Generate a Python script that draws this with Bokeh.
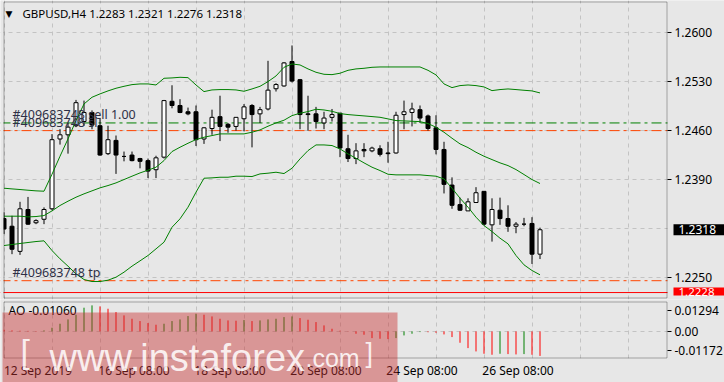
from bokeh.plotting import figure
from bokeh.models import (Range1d, FixedTicker, Span, Label, BoxAnnotation, LinearAxis,
                          ColumnDataSource, NumeralTickFormatter)
from bokeh.layouts import column
from bokeh.embed import file_html
from bokeh.resources import INLINE

# ---------------- data ----------------
symbol = "GBPUSD,H4"
opens = [1.2334, 1.2323, 1.2287, 1.2347, 1.2328, 1.2333, 1.2348, 1.2448, 1.2454, 1.2467,
         1.2473, 1.2486, 1.2467, 1.2427, 1.2446, 1.2423, 1.2425, 1.2420, 1.2417, 1.2404,
         1.2422, 1.2502, 1.2496, 1.2487, 1.2487, 1.2448, 1.2463, 1.2480, 1.2469, 1.2466,
         1.2477, 1.2496, 1.2484, 1.2491, 1.2520, 1.2524, 1.2559, 1.2533, 1.2484, 1.2484,
         1.2471, 1.2479, 1.2485, 1.2434, 1.2420, 1.2433, 1.2431, 1.2434, 1.2428, 1.2428,
         1.2483, 1.2486, 1.2490, 1.2481, 1.2464, 1.2433, 1.2382, 1.2354, 1.2345, 1.2357,
         1.2373, 1.2325, 1.2346, 1.2334, 1.2323, 1.2326, 1.2327, 1.2283]
highs = [1.2343, 1.2338, 1.2358, 1.2365, 1.2333, 1.2350, 1.2455, 1.2462, 1.2471, 1.2504,
         1.2503, 1.2489, 1.2478, 1.2467, 1.2453, 1.2430, 1.2430, 1.2421, 1.2420, 1.2424,
         1.2504, 1.2525, 1.2505, 1.2493, 1.2496, 1.2465, 1.2490, 1.2510, 1.2471, 1.2479,
         1.2498, 1.2498, 1.2494, 1.2560, 1.2528, 1.2558, 1.2582, 1.2534, 1.2510, 1.2494,
         1.2487, 1.2491, 1.2485, 1.2454, 1.2442, 1.2442, 1.2437, 1.2439, 1.2444, 1.2487,
         1.2503, 1.2500, 1.2496, 1.2483, 1.2482, 1.2444, 1.2393, 1.2364, 1.2363, 1.2379,
         1.2373, 1.2363, 1.2364, 1.2353, 1.2329, 1.2335, 1.2336, 1.2321]
lows = [1.2312, 1.2283, 1.2282, 1.2325, 1.2326, 1.2326, 1.2346, 1.2440, 1.2427, 1.2465,
        1.2467, 1.2462, 1.2424, 1.2425, 1.2398, 1.2416, 1.2416, 1.2406, 1.2392, 1.2392,
        1.2420, 1.2492, 1.2485, 1.2482, 1.2438, 1.2441, 1.2454, 1.2445, 1.2457, 1.2460,
        1.2459, 1.2436, 1.2471, 1.2489, 1.2516, 1.2523, 1.2529, 1.2462, 1.2460, 1.2463,
        1.2462, 1.2473, 1.2422, 1.2415, 1.2412, 1.2422, 1.2429, 1.2423, 1.2414, 1.2427,
        1.2462, 1.2466, 1.2471, 1.2460, 1.2426, 1.2370, 1.2348, 1.2345, 1.2345, 1.2357,
        1.2324, 1.2301, 1.2325, 1.2315, 1.2313, 1.2323, 1.2269, 1.2276]
closes = [1.2319, 1.2290, 1.2348, 1.2326, 1.2331, 1.2347, 1.2447, 1.2454, 1.2465, 1.2500,
          1.2486, 1.2468, 1.2425, 1.2447, 1.2425, 1.2423, 1.2417, 1.2416, 1.2402, 1.2421,
          1.2503, 1.2496, 1.2486, 1.2484, 1.2447, 1.2464, 1.2479, 1.2466, 1.2465, 1.2479,
          1.2494, 1.2483, 1.2490, 1.2518, 1.2526, 1.2557, 1.2531, 1.2483, 1.2483, 1.2473,
          1.2478, 1.2483, 1.2435, 1.2420, 1.2431, 1.2431, 1.2435, 1.2426, 1.2427, 1.2482,
          1.2487, 1.2491, 1.2478, 1.2463, 1.2433, 1.2383, 1.2353, 1.2346, 1.2358, 1.2371,
          1.2326, 1.2347, 1.2334, 1.2323, 1.2326, 1.2326, 1.2283, 1.2318]

bb_upper = [1.23775, 1.23765, 1.23756, 1.23746, 1.23737, 1.23732, 1.23975, 1.24233, 1.24481, 1.24744,
            1.24982, 1.25078, 1.25126, 1.25169, 1.25207, 1.25235, 1.25259, 1.25269, 1.25269, 1.25254,
            1.25350, 1.25355, 1.25364, 1.25359, 1.25254, 1.25159, 1.25183, 1.25188, 1.25188, 1.25183,
            1.25164, 1.25197, 1.25235, 1.25302, 1.25383, 1.25507, 1.25555, 1.25541, 1.25484, 1.25436,
            1.25407, 1.25402, 1.25422, 1.25464, 1.25484, 1.25493, 1.25507, 1.25512, 1.25512, 1.25512,
            1.25512, 1.25512, 1.25512, 1.25464, 1.25398, 1.25269, 1.25216, 1.25245, 1.25254, 1.25245,
            1.25226, 1.25173, 1.25188, 1.25197, 1.25188, 1.25178, 1.25169, 1.25140]
bb_middle = [1.23374, 1.23374, 1.23374, 1.23364, 1.23369, 1.23383, 1.23450, 1.23527, 1.23589, 1.23646,
             1.23694, 1.23737, 1.23780, 1.23813, 1.23851, 1.23899, 1.23947, 1.23994, 1.24033, 1.24076,
             1.24171, 1.24300, 1.24362, 1.24419, 1.24472, 1.24505, 1.24529, 1.24553, 1.24553, 1.24553,
             1.24553, 1.24577, 1.24610, 1.24663, 1.24710, 1.24749, 1.24815, 1.24849, 1.24873, 1.24906,
             1.24896, 1.24877, 1.24844, 1.24830, 1.24820, 1.24811, 1.24801, 1.24791, 1.24768, 1.24744,
             1.24739, 1.24734, 1.24729, 1.24701, 1.24648, 1.24577, 1.24491, 1.24410, 1.24357, 1.24290,
             1.24233, 1.24185, 1.24138, 1.24099, 1.24042, 1.23971, 1.23899, 1.23842]
bb_lower = [1.22954, 1.22968, 1.22983, 1.22997, 1.23011, 1.23021, 1.22882, 1.22763, 1.22658, 1.22548,
            1.22467, 1.22438, 1.22438, 1.22457, 1.22500, 1.22572, 1.22658, 1.22734, 1.22811, 1.22906,
            1.23002, 1.23216, 1.23336, 1.23503, 1.23718, 1.23918, 1.23923, 1.23932, 1.23932, 1.23947,
            1.23947, 1.23942, 1.23980, 1.23990, 1.24004, 1.23985, 1.24061, 1.24195, 1.24314, 1.24395,
            1.24395, 1.24386, 1.24338, 1.24266, 1.24204, 1.24138, 1.24076, 1.24028, 1.23975, 1.23966,
            1.23966, 1.23966, 1.23966, 1.23956, 1.23947, 1.23908, 1.23775, 1.23632, 1.23503, 1.23360,
            1.23240, 1.23154, 1.23059, 1.22978, 1.22811, 1.22677, 1.22596, 1.22534]

ao_values = [0.00072, 0.00043, 0.00029, 0.00022, 0.00014, 0.00043, 0.00159, 0.00332, 0.00519, 0.00722,
             0.01025, 0.01126, 0.01082, 0.00981, 0.00837, 0.00693, 0.00548, 0.00447, 0.00361, 0.00289,
             0.00332, 0.00447, 0.00519, 0.00664, 0.00765, 0.00722, 0.00649, 0.00548, 0.00476, 0.00462,
             0.00491, 0.00447, 0.00476, 0.00519, 0.00548, 0.00620, 0.00649, 0.00577, 0.00505, 0.00404,
             0.00260, 0.00115, 0.00029, -0.00007, -0.00101, -0.00144, -0.00289, -0.00317, -0.00332, -0.00289,
             -0.00173, -0.00101, -0.00029, -0.00036, -0.00058, -0.00130, -0.00245, -0.00491, -0.00722, -0.00866,
             -0.00967, -0.01010, -0.00967, -0.00981, -0.00996, -0.00981, -0.01010, -0.01060]

order_id = "#409683748"
sell_price = 1.2471
sl_price = 1.2460
tp_price = 1.2245
hline_price = 1.2228

price_ticks = [1.2600, 1.2530, 1.2460, 1.2390, 1.2320, 1.2250]
date_ticks = [0, 12, 24, 36, 48, 60]
date_labels = ["12 Sep 2019", "16 Sep 08:00", "18 Sep 08:00", "20 Sep 08:00",
               "24 Sep 08:00", "26 Sep 08:00"]
ao_max_label = 0.01294
ao_min_label = -0.01172

# ---------------- layout / styles ----------------
W = 724
H1, H2 = 299, 83
PX_BAR = 8.0            # pixels per bar
BAR0_PX = 3.5           # centre of first bar
PANEL_L, PANEL_R = 3, 667
REF_PRICE, REF_Y, PX_PIP = 1.2250, 276.7, 0.698
AO_TOP_Y, AO_BOT_Y = 2, 59   # AO panel inside its figure
BG = "#e7e7e7"
GRID = "#c3c3c3"
GREEN = "#008000"
ORANGE = "#ff4500"
RED = "#ff0000"
FONT = "Noto Sans"
FS = "12px"
TXT = "#2e3046"

n = len(closes)
xs = list(range(n))
x0 = -BAR0_PX / PX_BAR
x_range = Range1d(x0, x0 + W / PX_BAR)
right_k = x0 + PANEL_R / PX_BAR
main_top = REF_PRICE + REF_Y / PX_PIP / 10000
main_bot = REF_PRICE - (H1 - REF_Y) / PX_PIP / 10000
ao_px = (ao_max_label - ao_min_label) / (AO_BOT_Y - AO_TOP_Y)
ao_top = ao_max_label + AO_TOP_Y * ao_px
ao_bot = ao_min_label - (H2 - AO_BOT_Y) * ao_px


def box(p, l, r, t, b, level, fill=BG, line=None):
    p.add_layout(BoxAnnotation(left=l, right=r, top=t, bottom=b, left_units="screen",
                               right_units="screen", top_units="screen",
                               bottom_units="screen", fill_color=fill,
                               fill_alpha=1.0 if fill else 0, line_color=line,
                               line_width=1, level=level))


def style_axis(ax):
    ax.major_label_text_font = FONT
    ax.major_label_text_font_size = FS
    ax.major_label_text_color = "black"
    ax.axis_line_color = None
    ax.major_tick_out = 4
    ax.major_tick_in = 0
    ax.minor_tick_out = 0
    ax.minor_tick_in = 0
    ax.major_tick_line_color = "black"
    ax.major_label_standoff = 3


# ---------------- main chart ----------------
p1 = figure(width=W, height=H1, x_range=x_range, y_range=Range1d(main_bot, main_top),
            x_axis_location=None, y_axis_location=None, toolbar_location=None,
            output_backend="svg", min_border=0,
            background_fill_color=BG, border_fill_color=BG, outline_line_color=None)

# the current-price tag hides the axis label that it sits on
axis_ticks = [t for t in price_ticks if abs(t - closes[-1]) > 0.0005]
yax = LinearAxis(fixed_location=right_k, ticker=FixedTicker(ticks=axis_ticks),
                 formatter=NumeralTickFormatter(format="0.0000"))
style_axis(yax)
p1.add_layout(yax, "right")

p1.ygrid.ticker = FixedTicker(ticks=price_ticks)
p1.xgrid.ticker = FixedTicker(ticks=list(range(0, 84, 6)))
p1.grid.grid_line_color = GRID
p1.grid.grid_line_dash = "4 4"
p1.grid.grid_line_width = 1

for price, col, dash in [(sell_price, GREEN, "10 4 3 4"), (sl_price, ORANGE, "10 4 3 4"),
                         (tp_price, ORANGE, "10 4 3 4"), (hline_price, RED, "solid")]:
    p1.add_layout(Span(location=price, dimension="width", line_color=col,
                       line_dash=dash, line_width=1, level="underlay"))
box(p1, PANEL_R, W, H1, 0, "underlay")

src = ColumnDataSource(dict(
    x=xs, h=highs, l=lows,
    top=[max(o, c) for o, c in zip(opens, closes)],
    bottom=[min(o, c) for o, c in zip(opens, closes)],
    fill=["white" if c >= o else "black" for o, c in zip(opens, closes)],
))
p1.segment(x0="x", y0="h", x1="x", y1="l", source=src, line_color="black", line_width=1)
p1.vbar(x="x", width=0.5, top="top", bottom="bottom", fill_color="fill",
        line_color="black", line_width=1, source=src)

for band in (bb_upper, bb_middle, bb_lower):
    p1.line(xs, band, line_color=GREEN, line_width=1)

box(p1, 0, PANEL_L, H1, 0, "annotation")
box(p1, PANEL_L + 0.5, PANEL_R - 0.5, H1 - 1.5, 1.5, "annotation", fill=None, line="black")

p1.add_layout(Label(x=5, y=H1 - 13, x_units="screen", y_units="screen", text="\u25bc",
                    text_font="DejaVu Sans", text_font_size="9px", text_color="black",
                    text_baseline="middle"))
title = "%s  %.4f %.4f %.4f %.4f" % (symbol, opens[-1], highs[-1], lows[-1], closes[-1])
p1.add_layout(Label(x=22, y=H1 - 13, x_units="screen", y_units="screen", text=title,
                    text_font=FONT, text_font_size="11.5px", text_color="black",
                    text_baseline="middle"))
for txt, price in [(order_id + " sell 1.00", sell_price), (order_id + " sl", sl_price),
                   (order_id + " tp", tp_price)]:
    p1.add_layout(Label(x=12, y=price, x_units="screen", y_units="data", text=txt,
                        text_font=FONT, text_font_size="12.5px", text_color=TXT,
                        text_baseline="bottom"))

p1.add_layout(Label(x=673, y=closes[-1], x_units="screen", y_units="data",
                    text="%.4f" % closes[-1], text_font=FONT, text_font_size=FS,
                    text_color="white", text_baseline="middle",
                    background_fill_color="black", level="overlay",
                    padding=dict(left=5, right=11, top=1, bottom=1)))
p1.add_layout(Label(x=673, y=hline_price, x_units="screen", y_units="data", y_offset=1,
                    text="%.4f" % hline_price, text_font=FONT, text_font_size="11.5px",
                    text_color="white", text_baseline="middle",
                    background_fill_color=RED, level="overlay",
                    padding=dict(left=5, right=13, top=0, bottom=0)))

# ---------------- AO panel ----------------
p2 = figure(width=W, height=H2, x_range=x_range, y_range=Range1d(ao_bot, ao_top),
            x_axis_location=None, y_axis_location=None, toolbar_location=None,
            output_backend="svg", min_border=0,
            background_fill_color=BG, border_fill_color=BG, outline_line_color=None)

ao_tick_pos = [0.00904, 0, -0.00839]
ayax = LinearAxis(fixed_location=right_k, ticker=FixedTicker(ticks=ao_tick_pos))
ayax.major_label_overrides = {0.00904: "%.5f" % ao_max_label, 0: "0.00",
                              -0.00839: "%.5f" % ao_min_label}
style_axis(ayax)
p2.add_layout(ayax, "right")

# date labels are left-aligned at their bar in the reference: centre them half a label further
label_shift = 34.0 / PX_BAR
date_pos = [round(t + label_shift, 3) for t in date_ticks]
xax = LinearAxis(fixed_location=ao_min_label, ticker=FixedTicker(ticks=date_pos))
xax.major_label_overrides = {t: s for t, s in zip(date_pos, date_labels)}
style_axis(xax)
xax.major_tick_out = 0
xax.major_label_standoff = 3
p2.add_layout(xax, "below")

p2.xgrid.ticker = FixedTicker(ticks=list(range(0, 84, 6)))
p2.ygrid.ticker = FixedTicker(ticks=[0])
p2.grid.grid_line_color = GRID
p2.grid.grid_line_dash = "4 4"

box(p2, PANEL_R, W, H2, 0, "underlay")
box(p2, 0, W, H2 - AO_BOT_Y, 0, "underlay")
box(p2, 0, W, H2, H2 - AO_TOP_Y, "underlay")

ao_colors = [RED] + [GREEN if ao_values[i] > ao_values[i - 1] else RED for i in range(1, n)]
ao_src = ColumnDataSource(dict(x=xs, y0=[0] * n, y1=ao_values, c=ao_colors))
p2.segment(x0="x", y0="y0", x1="x", y1="y1", line_color="c", line_width=1, source=ao_src)

box(p2, 0, PANEL_L, H2, 0, "annotation")
box(p2, PANEL_L + 0.5, PANEL_R - 0.5, H2 - AO_TOP_Y - 0.5, H2 - AO_BOT_Y + 0.5,
    "annotation", fill=None, line="black")

p2.add_layout(Label(x=8, y=H2 - 10.5, x_units="screen", y_units="screen",
                    text="AO %.5f" % ao_values[-1], text_font=FONT, text_font_size=FS,
                    text_color="black", text_baseline="middle"))

# watermark
p2.add_layout(BoxAnnotation(left=2, right=397, top=H2 - 13, bottom=0,
                            left_units="screen", right_units="screen",
                            top_units="screen", bottom_units="screen",
                            fill_color="#c83232", fill_alpha=0.45, line_color=None,
                            level="overlay"))
for txt, xx, dy, fs in [("[", 20, 7, "34px"), ("www.instaforex", 49, 0, "38px"),
                        (".com", 305, 0, "25px"), ("]", 365, 5, "27px")]:
    p2.add_layout(Label(x=xx, y=H2 - 58 + dy, x_units="screen", y_units="screen", text=txt,
                        text_font="Liberation Sans", text_font_size=fs,
                        text_color="white", text_alpha=0.85,
                        text_baseline="alphabetic", level="overlay"))

layout = column(p1, p2, spacing=0)
open("out.html", "w").write(file_html(layout, INLINE))
